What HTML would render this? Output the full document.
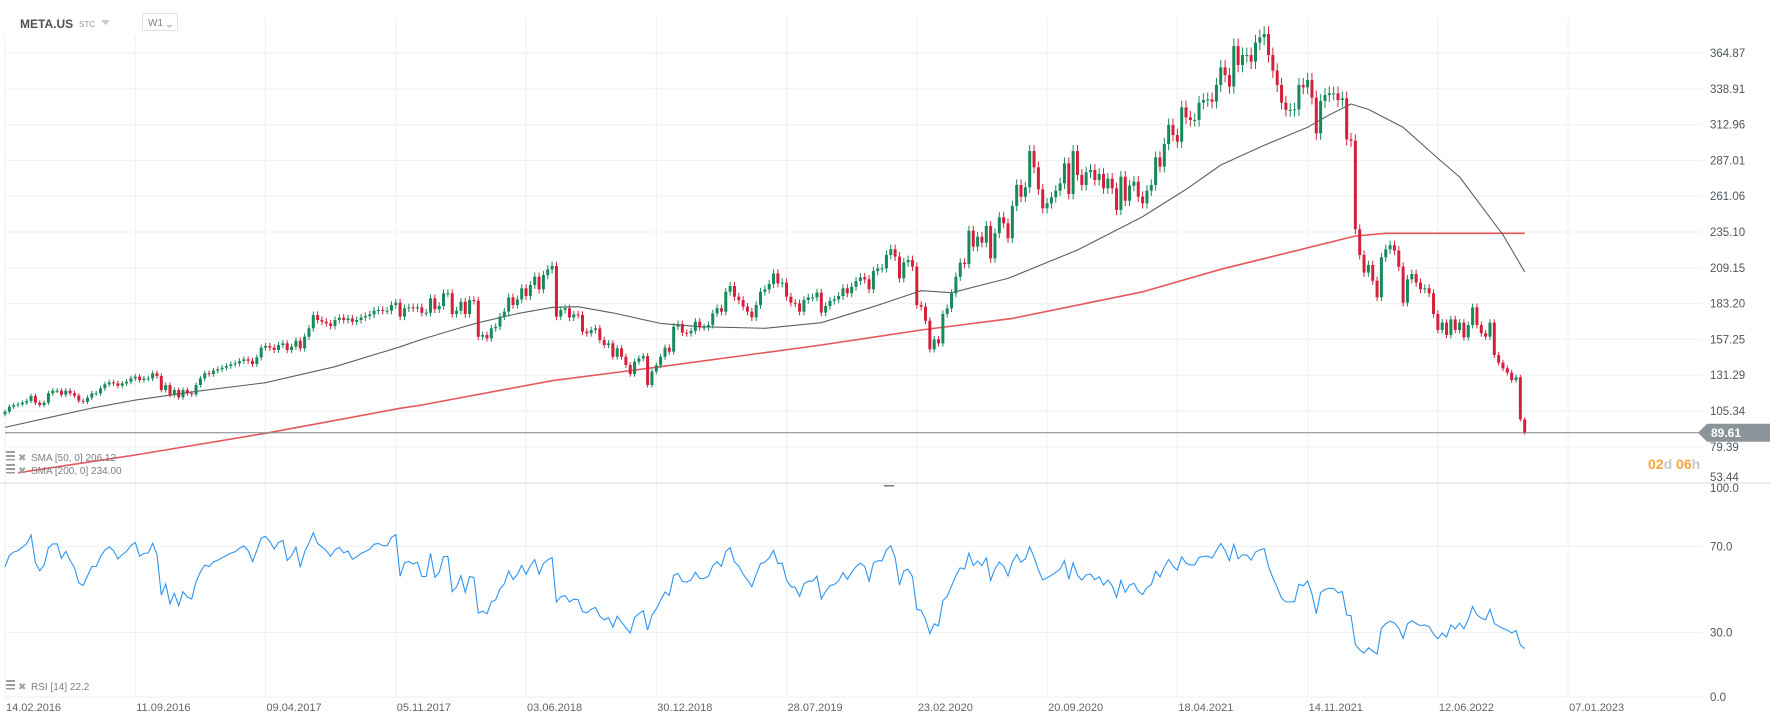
<!DOCTYPE html>
<html><head><meta charset="utf-8"><style>
html,body{margin:0;padding:0;background:#fff;}
svg{display:block;font-family:"Liberation Sans",sans-serif;}
</style></head><body>
<svg id="chart" width="1770" height="721" viewBox="0 0 1770 721">
<g id="grid"></g>
<g id="price"></g>
<g id="rsi"></g>
<g id="axes"></g>
<g>
  <rect x="0" y="0" width="200" height="36" fill="#fff"/>
  <text x="20" y="28" font-size="12" font-weight="bold" fill="#4a5157">META.US</text>
  <text x="79" y="27" font-size="8" fill="#8a99a6">STC</text>
  <path d="M101 20 L110 20 L105.5 25 Z" fill="#c8ccd0"/>
  <rect x="142.5" y="13.5" width="35" height="17" rx="2" fill="#fff" stroke="#dde0e3"/>
  <text x="148" y="26" font-size="10" fill="#7a8288">W1</text>
  <path d="M166 25 L173 25 L169.5 28 Z" fill="#c0c4c8"/>
</g>
<g font-size="10" fill="#7b7f84">
  <g>
    <rect x="6" y="451" width="9" height="2" fill="#9a9ea2"/><rect x="6" y="455" width="9" height="2" fill="#9a9ea2"/><rect x="6" y="459" width="9" height="1.5" fill="#9a9ea2"/>
    <text x="18" y="461" fill="#a0a4a8" font-size="10">✖</text>
    <text x="31" y="461">SMA  [50,  0]  206.12</text>
  </g>
  <g>
    <rect x="6" y="464" width="9" height="2" fill="#9a9ea2"/><rect x="6" y="468" width="9" height="2" fill="#9a9ea2"/><rect x="6" y="472" width="9" height="1.5" fill="#9a9ea2"/>
    <text x="18" y="474" fill="#a0a4a8" font-size="10">✖</text>
    <text x="31" y="474">SMA  [200,  0]  234.00</text>
  </g>
  <g>
    <rect x="6" y="680" width="9" height="2" fill="#9a9ea2"/><rect x="6" y="684" width="9" height="2" fill="#9a9ea2"/><rect x="6" y="688" width="9" height="1.5" fill="#9a9ea2"/>
    <text x="18" y="690" fill="#a0a4a8" font-size="10">✖</text>
    <text x="31" y="690">RSI  [14]  22.2</text>
  </g>
</g>
<text x="1648" y="469" font-size="14" font-weight="bold"><tspan fill="#f7a53a">02</tspan><tspan fill="#c4c7ca">d </tspan><tspan fill="#f7a53a">06</tspan><tspan fill="#c4c7ca">h</tspan></text>
</svg>
<script>
const closes = [
104.9,108.5,109.7,110.2,111.4,112.6,116.2,111.4,109.7,111.4,118.2,120.1,120.1,117.2,120.1,118.2,116.5,112.8,112.1,115.0,
118.2,118.2,121.8,124.7,126.1,125.4,123.7,125.4,126.6,129.0,130.3,127.8,128.8,129.0,132.7,130.7,120.6,124.2,117.0,120.6,
115.3,120.6,118.2,117.4,124.2,129.0,132.7,132.2,134.6,135.6,136.8,138.0,139.2,139.9,141.6,142.8,141.8,139.4,144.2,151.3,
152.5,151.3,149.6,153.2,154.4,149.6,152.0,156.3,150.8,159.2,165.3,174.9,171.3,170.1,168.9,167.0,171.3,173.0,171.3,172.5,
170.1,171.3,173.2,174.2,175.4,178.1,178.6,178.1,178.1,182.2,183.9,173.8,179.8,180.5,179.8,180.5,176.6,176.6,187.0,179.1,
181.5,190.7,190.7,175.7,178.1,184.6,175.7,185.8,185.3,159.2,160.5,158.0,165.3,166.5,173.8,177.4,187.7,182.2,186.3,194.3,
188.7,196.7,202.7,193.5,203.9,208.0,210.5,173.8,178.6,179.8,173.2,175.4,175.0,162.9,161.7,164.1,165.3,156.8,153.2,154.4,
144.7,150.8,144.7,138.7,132.2,141.1,143.5,145.2,124.2,133.9,138.5,144.7,151.3,148.4,166.5,168.4,162.1,161.7,163.4,170.1,
166.0,166.0,167.7,176.1,179.8,177.4,191.8,196.0,188.2,185.8,181.0,177.4,173.2,182.2,191.8,193.5,197.4,205.1,197.9,198.4,
188.2,183.9,183.4,177.4,185.8,187.7,187.7,191.1,176.7,181.5,185.3,186.3,188.7,194.3,190.7,195.5,199.6,202.3,200.8,193.6,
206.9,208.8,208.8,218.5,222.6,217.3,201.5,213.1,214.8,210.0,182.2,181.0,170.8,150.1,157.3,154.4,175.7,179.8,190.7,202.7,
212.9,211.9,236.1,224.5,231.7,227.4,239.5,216.0,234.2,245.8,241.4,230.6,254.0,269.2,260.7,267.5,293.8,282.0,266.0,252.3,
255.9,260.3,265.1,270.4,284.9,262.7,293.8,276.5,269.2,278.4,280.1,272.8,277.2,266.8,273.8,266.8,251.1,275.2,257.8,268.7,
271.6,260.7,255.9,265.1,269.2,289.2,282.5,298.9,312.7,305.4,300.6,325.5,318.2,316.3,316.3,328.9,330.8,331.3,329.6,341.7,
354.5,348.9,340.5,369.9,356.2,363.4,363.4,358.6,372.4,376.2,378.6,363.4,352.1,341.7,328.9,323.6,323.6,324.0,341.7,340.0,
345.3,332.5,306.6,330.1,334.4,335.6,335.6,330.8,332.0,302.3,301.3,237.1,218.5,205.7,211.2,199.8,187.8,216.8,222.6,225.5,
221.6,210.0,183.9,200.8,204.7,198.4,193.6,194.3,190.7,175.7,164.1,169.4,160.5,171.8,164.1,169.4,158.8,167.7,180.5,167.7,
161.7,159.3,169.4,145.9,140.4,136.3,133.2,127.8,129.8,99.3,89.6];
const firstOpen = 103.0;
const sma50Weeks = [0,10,20,30,45,60,76,91,96,103,109,118,126,132,140,151,160,175,188,200,211,218,231,247,262,272,280,290,300,305,310,314,318,322,330,335,341,345,350];
const sma50Values = [93.5,100.5,107.5,113.3,120.0,125.9,137.5,151.9,157.3,164.0,169.4,176.0,180.5,181.0,176.5,168.9,166.5,165.3,169.4,181.0,192.6,191.1,201.5,222.1,246.2,266.0,283.7,298.0,311.0,320.0,327.9,324.0,317.5,311.0,288.5,275.0,249.8,233.0,206.3];
const sma200Weeks = [3,30,60,91,96,126,151,188,211,232,262,280,311,318,350];
const sma200Values = [60.6,73.5,89.2,107.3,109.7,127.3,137.5,153.2,164.1,172.5,191.8,208.1,232.2,234.2,234.2];
const priceTicks = ["364.87","338.91","312.96","287.01","261.06","235.10","209.15","183.20","157.25","131.29","105.34","79.39","53.44"];
const rsiTicks = ["100.0","70.0","30.0","0.0"];
const dateLabels = ["14.02.2016","11.09.2016","09.04.2017","05.11.2017","03.06.2018","30.12.2018","28.07.2019","23.02.2020","20.09.2020","18.04.2021","14.11.2021","12.06.2022","07.01.2023"];
const lastPrice = 89.61;

const NS="http://www.w3.org/2000/svg";
function mk(tag, attrs, parent){const e=document.createElementNS(NS,tag);for(const k in attrs)e.setAttribute(k,attrs[k]);parent.appendChild(e);return e;}
const xW = w => 5 + w*4.342;
const yP = p => 53 + (364.87-p)/25.95*35.8;
const yR = v => 697 - v*2.15;
const grid=document.getElementById('grid'), price=document.getElementById('price'), rsiG=document.getElementById('rsi'), axes=document.getElementById('axes');

dateLabels.forEach((d,i)=>{
  const x=xW(i*30);
  const l=mk('line',{x1:x,x2:x,y1:17,y2:697,stroke:'#eef0f2','stroke-width':1},grid);
  
  
  const t=mk('text',{x:x+1,y:711,'font-size':11,fill:'#5f666c'},axes);
  t.textContent=d;
  
  
});
priceTicks.forEach(s=>{
  const y=yP(parseFloat(s));
  if(y<480){
    const l=mk('line',{x1:5,x2:1702,y1:y,y2:y,stroke:'#eef0f2','stroke-width':1},grid);
    
    
  }
  const t=mk('text',{x:1710,y:Math.min(y+4,481),'font-size':11.5,fill:'#4f565c'},axes);
  t.textContent=s;
  
  
});
rsiTicks.forEach(s=>{
  const v=parseFloat(s), y=yR(v);
  if(v<100){
    const l=mk('line',{x1:5,x2:1702,y1:y,y2:y,stroke:'#eef0f2','stroke-width':1},grid);
    
    
  }
  const t=mk('text',{x:1710,y:v===100?y+10:y+4,'font-size':11.5,fill:'#4f565c'},axes);
  t.textContent=s;
  
  
});
const sep=mk('line',{x1:0,x2:1770,y1:483,y2:483,stroke:'#d6d9dc','stroke-width':1},axes);


const hnd=mk('rect',{x:884,y:485,width:10,height:1.5,fill:'#777'},axes);



function polyline(ws,vs,stroke,width,name,op){
  const pts=ws.map((w,i)=>xW(w).toFixed(1)+','+yP(vs[i]).toFixed(1)).join(' ');
  const p=mk('polyline',{points:pts,fill:'none',stroke:stroke,'stroke-width':width,'stroke-opacity':op,'stroke-linejoin':'round'},price);
  
  
}
polyline(sma200Weeks,sma200Values,'#e23a3f',1.6,'sma200-line',0.85);
polyline(sma50Weeks,sma50Values,'#4a4f54',1.1,'sma50-line',0.9);

closes.forEach((c,i)=>{
  const o = i===0?firstOpen:closes[i-1];
  const up = c>=o;
  const col = up?'#178a5b':'#d5203c';
  const hi=Math.max(o,c)*1.015, lo=Math.min(o,c)*0.985;
  const x=xW(i);
  const g=mk('g',{},price);
  
  
  mk('line',{x1:x,x2:x,y1:yP(hi),y2:yP(lo),stroke:col,'stroke-width':1},g);
  const yt=yP(Math.max(o,c)), yb=yP(Math.min(o,c));
  mk('rect',{x:x-1.5,y:yt,width:3,height:Math.max(1,yb-yt),fill:col},g);
});

const yl=yP(lastPrice);
const pl=mk('line',{x1:5,x2:1700,y1:yl,y2:yl,stroke:'#7d878e','stroke-width':1},price);


const bd=mk('path',{d:`M1698 ${yl} L1707 ${yl-9} L1770 ${yl-9} L1770 ${yl+9} L1707 ${yl+9} Z`,fill:'#8a9499'},axes);


const bt=mk('text',{x:1711,y:yl+4.5,'font-size':12,'font-weight':'bold',fill:'#fff'},axes);
bt.textContent=lastPrice.toFixed(2);



let ag=1.0, al=0.75; const rsiVals=[];
closes.forEach((c,i)=>{
  const prev = i===0?firstOpen:closes[i-1];
  const d=c-prev;
  ag=(ag*13+Math.max(d,0))/14; al=(al*13+Math.max(-d,0))/14;
  rsiVals.push(100-100/(1+ag/Math.max(al,1e-6)));
});
const rl=mk('polyline',{points:rsiVals.map((v,i)=>xW(i).toFixed(1)+','+yR(v).toFixed(1)).join(' '),fill:'none',stroke:'#2e95f0','stroke-width':1.1},rsiG);


</script>
</body></html>
